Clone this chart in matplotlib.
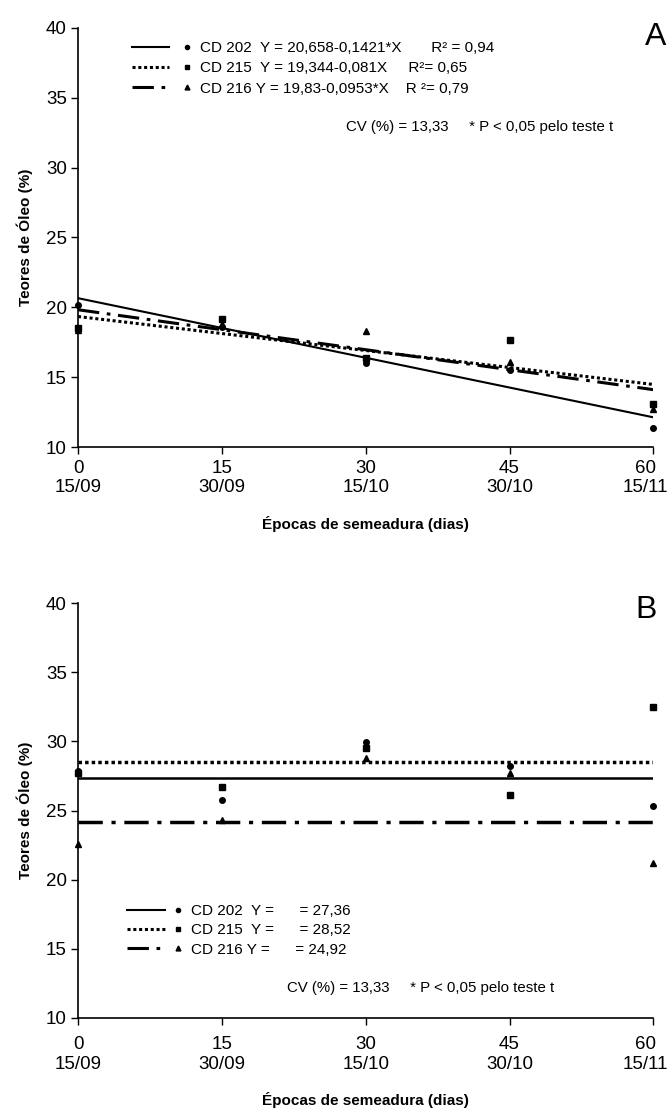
import matplotlib
matplotlib.use("Agg")
import matplotlib.pyplot as plt
import matplotlib.transforms as mtransforms
from matplotlib.lines import Line2D
from matplotlib.legend_handler import HandlerTuple

plt.rcParams['font.family'] = ['Liberation Sans', 'DejaVu Sans']

# dados
dias = [0, 15, 30, 45, 60]
datas = ["15/09", "30/09", "15/10", "30/10", "15/11"]
cultivares = ["CD 202", "CD 215", "CD 216"]

# painel A - pontos observados
a_cd202 = [20.2, 18.6, 16.0, 15.55, 11.35]
a_cd215 = [18.5, 19.2, 16.35, 17.65, 13.1]
a_cd216 = [18.4, 18.8, 18.3, 16.1, 12.75]
# painel A - regressões (intercepto, inclinação)
a_coef = [(20.658, -0.1421), (19.344, -0.081), (19.83, -0.0953)]
a_rotulos = ["CD 202  Y = 20,658-0,1421*X       R² = 0,94",
             "CD 215  Y = 19,344-0,081X     R²= 0,65",
             "CD 216 Y = 19,83-0,0953*X    R ²= 0,79"]

# painel B - pontos observados
b_cd202 = [27.85, 25.75, 29.95, 28.2, 25.3]
b_cd215 = [27.75, 26.7, 29.5, 26.15, 32.5]
b_cd216 = [22.55, 24.3, 28.8, 27.75, 21.2]
# painel B - médias (nível das linhas desenhadas)
b_medias = [27.36, 28.55, 24.15]
b_rotulos = ["CD 202  Y =      = 27,36",
             "CD 215  Y =      = 28,52",
             "CD 216 Y =      = 24,92"]

estilos = ['-', (0, (1, 0.9)), (0, (7, 2.5, 1.2, 2.5))]
larguras = [1.5, 2.2, 2.2]
marcadores = ['o', 's', '^']
tam_marc = [4, 4, 4.5]

fig = plt.figure(figsize=(6.69, 11.15), dpi=100)
axA = fig.add_axes([0.1166, 0.599, 0.860, 0.376])
axB = fig.add_axes([0.1166, 0.087, 0.860, 0.372])

xt = [f"{d}\n{t}" for d, t in zip(dias, datas)]


def formata(ax, padx, padlab):
    ax.set_xlim(0, 60)
    ax.set_ylim(10, 40)
    ax.set_xticks(dias)
    ax.set_xticklabels(xt, fontsize=13.5, linespacing=1.2)
    ax.set_yticks([10, 15, 20, 25, 30, 35, 40])
    ax.tick_params(axis='y', labelsize=13.5, length=5, width=1, pad=3)
    ax.tick_params(axis='x', length=5, width=1, pad=padx)
    for s in ['top', 'right']:
        ax.spines[s].set_visible(False)
    for s in ['left', 'bottom']:
        ax.spines[s].set_linewidth(1.2)
    ax.set_ylabel("Teores de Óleo (%)", fontsize=11, fontweight='bold', labelpad=9)
    ax.set_xlabel("Épocas de semeadura (dias)", fontsize=11, fontweight='bold',
                  labelpad=padlab)
    # último rótulo do eixo x um pouco para a esquerda (cabe na figura)
    ult = ax.get_xticklabels()[-1]
    ult.set_transform(ult.get_transform() +
                      mtransforms.ScaledTranslation(-8 / 100, 0, fig.dpi_scale_trans))


# ---- painel A ----
pontosA = [a_cd202, a_cd215, a_cd216]
handlesA = []
for i in range(3):
    b0, b1 = a_coef[i]
    yl = [b0 + b1 * d for d in dias]
    axA.plot(dias, yl, color='black', ls=estilos[i], lw=larguras[i])
    axA.plot(dias, pontosA[i], ls='none', marker=marcadores[i], ms=tam_marc[i],
             color='black', clip_on=False, zorder=5)
    handlesA.append((Line2D([], [], color='black', ls=estilos[i], lw=larguras[i]),
                     Line2D([], [], ls='none', marker=marcadores[i], ms=tam_marc[i] - 1,
                            color='black')))
axA.legend(handlesA, a_rotulos, handler_map={tuple: HandlerTuple(ndivide=None, pad=0)},
           loc='upper left', bbox_to_anchor=(0.080, 0.987), frameon=False,
           fontsize=11, handlelength=4.84, handletextpad=-0.39, labelspacing=0.42,
           borderpad=0)
axA.text(28.0, 32.9, "CV (%) = 13,33     * P < 0,05 pelo teste t", fontsize=10.8,
         va='center')
formata(axA, 4, 14)
fig.text(666 / 669, 1 - 22 / 1115, "A", fontsize=23, ha='right', va='top')

# ---- painel B ----
pontosB = [b_cd202, b_cd215, b_cd216]
handlesB = []
for i in range(3):
    axB.axhline(b_medias[i], color='black', ls=estilos[i], lw=larguras[i] + 0.3)
    axB.plot(dias, pontosB[i], ls='none', marker=marcadores[i], ms=tam_marc[i],
             color='black', clip_on=False, zorder=5)
    handlesB.append((Line2D([], [], color='black', ls=estilos[i], lw=larguras[i]),
                     Line2D([], [], ls='none', marker=marcadores[i], ms=tam_marc[i] - 1,
                            color='black')))
axB.legend(handlesB, b_rotulos, handler_map={tuple: HandlerTuple(ndivide=None, pad=-0.39)},
           loc='upper left', bbox_to_anchor=(0.0713, 0.293), frameon=False,
           fontsize=11, handlelength=4.58, handletextpad=-0.39, labelspacing=0.35,
           borderpad=0)
axB.text(21.8, 12.2, "CV (%) = 13,33     * P < 0,05 pelo teste t", fontsize=10.8,
         va='center')
formata(axB, 8, 14)
fig.text(657 / 669, 1 - 595 / 1115, "B", fontsize=23, ha='right', va='top')

fig.savefig("out.png", dpi=100)
